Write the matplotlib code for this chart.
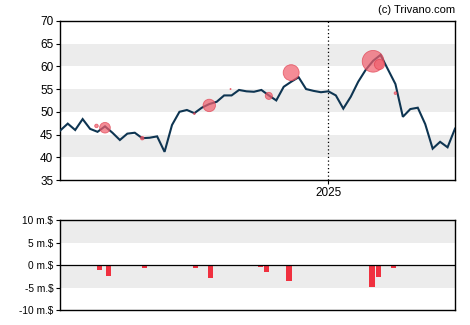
import numpy as np
import pandas as pd
import matplotlib
matplotlib.use("Agg")
import matplotlib.pyplot as plt
import matplotlib.dates as mdates

plt.rcParams['font.family'] = ['Liberation Sans', 'DejaVu Sans']

# weekly closing prices
start = '2024-04-24'
prices = [45.9, 47.4, 46.0, 48.4, 46.25, 45.6, 46.8, 45.4, 43.8, 45.2,
          45.4, 44.2, 44.3, 44.6, 41.2, 47.1, 50.0, 50.4, 49.7, 50.9,
          51.7, 52.2, 53.6, 53.6, 54.8, 54.5, 54.4, 54.8, 53.6, 52.5,
          55.5, 56.6, 57.6, 55.0, 54.6, 54.3, 54.5, 53.6, 50.7, 53.3,
          56.6, 59.2, 61.2, 62.5, 59.3, 56.1, 48.9, 50.6, 50.9, 47.3,
          41.9, 43.4, 42.2, 46.3]
dates = pd.date_range(start, periods=len(prices), freq='7D')

# insider sales: date, price, volume (m.$)
trade_dates = ['2024-05-28', '2024-06-05', '2024-07-10', '2024-08-28',
               '2024-09-11', '2024-10-01', '2024-11-06', '2024-11-27',
               '2025-02-12', '2025-02-18', '2025-03-05']
trade_prices = [46.9, 46.5, 44.2, 49.6, 51.4, 55.0, 53.5, 58.6, 61.1, 60.4, 54.1]
trade_volume = [0.8, 2.4, 0.8, 0.4, 2.8, 0.25, 1.6, 3.6, 4.9, 2.3, 0.6]

# net insider flow per trading day (m.$)
flow_dates = ['2024-05-31', '2024-06-08', '2024-07-12', '2024-08-29',
              '2024-09-12', '2024-10-02', '2024-10-29', '2024-11-04',
              '2024-11-25', '2025-02-11', '2025-02-17', '2025-03-03']
flow_values = [-1.0, -2.4, -0.75, -0.6, -2.8, -0.3, -0.4, -1.65, -3.6, -4.8, -2.6, -0.6]

fig = plt.figure(figsize=(4.7, 3.25), dpi=100, facecolor='white')
ax = fig.add_axes([0.1283, 0.446, 0.8398, 0.490])
ax2 = fig.add_axes([0.1283, 0.046, 0.8398, 0.277])

x0 = dates[0]
x1 = dates[-1]

# price panel
for lo in (40, 50, 60):
    ax.axhspan(lo, lo + 5, color='#ececec', lw=0, zorder=0)
ax.plot(dates, prices, color='#0e3552', lw=1.5, zorder=3, solid_joinstyle='miter')
tx = pd.to_datetime(trade_dates)
r = np.array(trade_volume) * 2.5  # radius in px
ax.scatter(tx, trade_prices, s=(r * 72 / 100) ** 2 * np.pi, color='#f0606e',
           alpha=0.72, edgecolors='#e04050', linewidths=0.6, zorder=4)
ax.axvline(pd.Timestamp('2025-01-01'), color='black', ls=(0, (1, 2)), lw=0.9, zorder=2)
ax.set_xlim(x0, x1)
ax.set_ylim(35, 70)
ax.set_yticks(range(35, 71, 5))
ax.set_xticks([pd.Timestamp('2025-01-01')])
ax.xaxis.set_major_formatter(mdates.DateFormatter('%Y'))
ax.tick_params(axis='both', labelsize=8.5, length=3, width=0.8, pad=2)
for s in ax.spines.values():
    s.set_linewidth(1.0)
fig.text(0.968, 0.985, '(c) Trivano.com', ha='right', va='top', fontsize=8)

# flow panel
ax2.axhspan(5, 10, color='#ececec', lw=0, zorder=0)
ax2.axhspan(-5, 0, color='#ececec', lw=0, zorder=0)
ax2.bar(pd.to_datetime(flow_dates), flow_values, width=4.8, color='#f0303f', zorder=2)
ax2.axhline(0, color='black', lw=0.9, zorder=3)
ax2.set_xlim(x0, x1)
ax2.set_ylim(-10, 10)
ax2.set_yticks([-10, -5, 0, 5, 10])
ax2.set_yticklabels(['-10 m.$', '-5 m.$', '0 m.$', '5 m.$', '10 m.$'])
ax2.set_xticks([])
ax2.tick_params(axis='y', labelsize=7.3, length=3, width=0.8, pad=2)
for s in ax2.spines.values():
    s.set_linewidth(1.0)

fig.savefig('out.png', dpi=100)
